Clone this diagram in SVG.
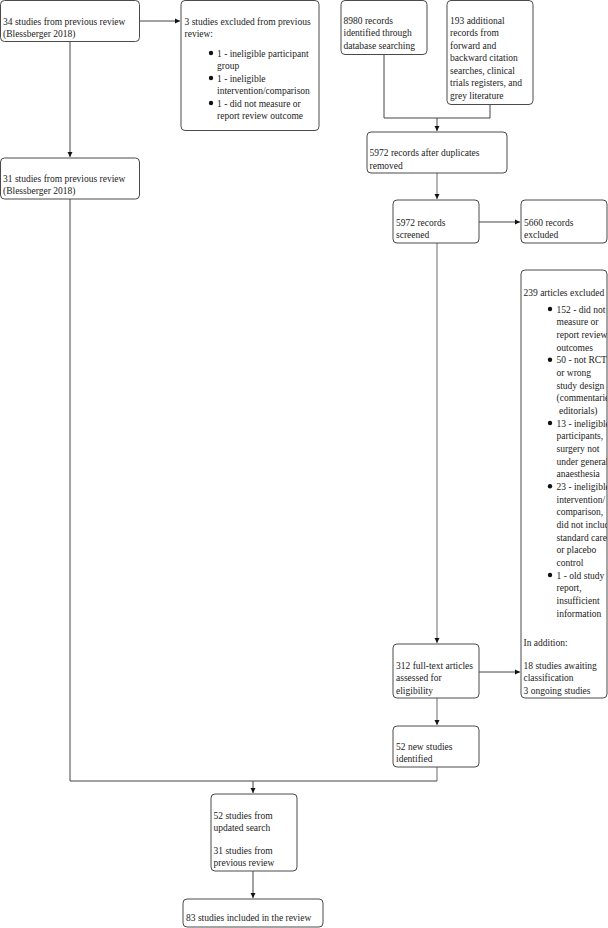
<svg xmlns="http://www.w3.org/2000/svg" width="608" height="928" viewBox="0 0 608 928" font-family="'Liberation Serif', 'Times New Roman', Times, serif">
<style>
.box{fill:#fff;stroke:#4a4a4a;stroke-width:1}
text{font-family:'Liberation Serif','Times New Roman',Times,serif;font-size:9.5px;fill:#222}
.c{fill:none;stroke:#444;stroke-width:1}
.cg{fill:none;stroke:#8c8c8c;stroke-width:1.3}
.dot{fill:#111}
</style>
<defs>
<marker id="ah" markerUnits="userSpaceOnUse" markerWidth="6" markerHeight="6" refX="5" refY="3" orient="auto">
<path d="M0,0.5 L5,3 L0,5.5 z" fill="#111"/>
</marker>
<clipPath id="clip8"><rect x="521" y="270" width="86" height="428"/></clipPath>
</defs>
<g id="connectors">
<line class="c" x1="139" y1="21" x2="180" y2="21" marker-end="url(#ah)"/>
<line class="c" x1="70" y1="41" x2="70" y2="157" marker-end="url(#ah)"/>
<polyline class="c" points="384,54 384,118 490,118 490,104"/>
<line class="c" x1="437" y1="118" x2="437" y2="131" marker-end="url(#ah)"/>
<line class="cg" x1="437" y1="173" x2="437" y2="199" marker-end="url(#ah)"/>
<line class="c" x1="479" y1="222" x2="520" y2="222" marker-end="url(#ah)"/>
<line class="cg" x1="437" y1="243" x2="437" y2="643" marker-end="url(#ah)"/>
<line class="c" x1="479" y1="672" x2="520" y2="672" marker-end="url(#ah)"/>
<line class="cg" x1="437" y1="698" x2="437" y2="725" marker-end="url(#ah)"/>
<polyline class="cg" points="437,767 437,781"/>
<polyline class="c" points="70,199 70,781 437,781"/>
<line class="c" x1="253" y1="781" x2="253" y2="793" marker-end="url(#ah)"/>
<line class="c" x1="253" y1="871" x2="253" y2="898" marker-end="url(#ah)"/>
</g>
<g id="n1">
<rect class="box" x="0.5" y="0.5" width="139" height="41" rx="4"/>
<text x="3" y="24.5">34 studies from previous review</text>
<text x="3" y="37">(Blessberger 2018)</text>
</g>
<g id="n2">
<rect class="box" x="181" y="0.5" width="138" height="130" rx="4"/>
<text x="184.5" y="24.5">3 studies excluded from previous</text>
<text x="184.5" y="37">review:</text>
<circle class="dot" cx="211" cy="53" r="2.2"/>
<text x="217" y="56.5">1 - ineligible participant</text>
<text x="217" y="69">group</text>
<circle class="dot" cx="211" cy="78" r="2.2"/>
<text x="217" y="81.5">1 - ineligible</text>
<text x="217" y="94">intervention/comparison</text>
<circle class="dot" cx="211" cy="103" r="2.2"/>
<text x="217" y="106.5">1 - did not measure or</text>
<text x="217" y="119">report review outcome</text>
</g>
<g id="n3">
<rect class="box" x="341" y="0.5" width="86" height="54" rx="4"/>
<text x="343.5" y="23.5">8980 records</text>
<text x="343.5" y="36">identified through</text>
<text x="343.5" y="48.5">database searching</text>
</g>
<g id="n4">
<rect class="box" x="447" y="0.5" width="86" height="104" rx="4"/>
<text x="450" y="23.5">193 additional</text>
<text x="450" y="36">records from</text>
<text x="450" y="48.5">forward and</text>
<text x="450" y="61">backward citation</text>
<text x="450" y="73.5">searches, clinical</text>
<text x="450" y="86">trials registers, and</text>
<text x="450" y="98.5">grey literature</text>
</g>
<g id="n5">
<rect class="box" x="367" y="132" width="140" height="41" rx="4"/>
<text x="369.5" y="155.5">5972 records after duplicates</text>
<text x="369.5" y="168.5">removed</text>
</g>
<g id="n6">
<rect class="box" x="393" y="200" width="86" height="43" rx="4"/>
<text x="396" y="225.5">5972 records</text>
<text x="396" y="238">screened</text>
</g>
<g id="n7">
<rect class="box" x="521" y="200" width="86" height="43" rx="4"/>
<text x="524" y="225.5">5660 records</text>
<text x="524" y="238">excluded</text>
</g>
<g id="n8">
<rect class="box" x="521" y="270" width="86" height="428" rx="4"/>
<g clip-path="url(#clip8)">
<text x="523.5" y="296">239 articles excluded</text>
<circle class="dot" cx="550" cy="309" r="2.2"/>
<text x="556.5" y="312.5">152 - did not</text>
<text x="556.5" y="325.2">measure or</text>
<text x="556.5" y="337.8">report review</text>
<text x="556.5" y="350.5">outcomes</text>
<circle class="dot" cx="550" cy="359.7" r="2.2"/>
<text x="556.5" y="363.2">50 - not RCT</text>
<text x="556.5" y="375.8">or wrong</text>
<text x="556.5" y="388.5">study design</text>
<text x="556.5" y="401.2">(commentaries,</text>
<text x="559" y="413.8">editorials)</text>
<circle class="dot" cx="550" cy="423" r="2.2"/>
<text x="556.5" y="426.5">13 - ineligible</text>
<text x="556.5" y="439.2">participants,</text>
<text x="556.5" y="451.8">surgery not</text>
<text x="556.5" y="464.5">under general</text>
<text x="556.5" y="477.2">anaesthesia</text>
<circle class="dot" cx="550" cy="486.3" r="2.2"/>
<text x="556.5" y="489.8">23 - ineligible</text>
<text x="556.5" y="502.5">intervention/</text>
<text x="556.5" y="515.2">comparison,</text>
<text x="556.5" y="527.8">did not include</text>
<text x="556.5" y="540.5">standard care</text>
<text x="556.5" y="553.2">or placebo</text>
<text x="556.5" y="565.8">control</text>
<circle class="dot" cx="550" cy="575" r="2.2"/>
<text x="556.5" y="578.5">1 - old study</text>
<text x="556.5" y="591.2">report,</text>
<text x="556.5" y="603.8">insufficient</text>
<text x="556.5" y="616.5">information</text>
<text x="523.5" y="645.5">In addition:</text>
<text x="523.5" y="668.5">18 studies awaiting</text>
<text x="523.5" y="681">classification</text>
<text x="523.5" y="693.5">3 ongoing studies</text>
</g>
</g>
<g id="n9">
<rect class="box" x="393" y="644" width="86" height="54" rx="4"/>
<text x="396" y="668.5">312 full-text articles</text>
<text x="396" y="681">assessed for</text>
<text x="396" y="693.5">eligibility</text>
</g>
<g id="n10">
<rect class="box" x="393" y="726" width="86" height="41" rx="4"/>
<text x="396" y="749.5">52 new studies</text>
<text x="396" y="762">identified</text>
</g>
<g id="n11">
<rect class="box" x="0.5" y="158" width="139" height="41" rx="4"/>
<text x="3" y="181.5">31 studies from previous review</text>
<text x="3" y="194">(Blessberger 2018)</text>
</g>
<g id="n12">
<rect class="box" x="211" y="794" width="86" height="77" rx="4"/>
<text x="213.5" y="818.5">52 studies from</text>
<text x="213.5" y="831">updated search</text>
<text x="213.5" y="853.5">31 studies from</text>
<text x="213.5" y="866">previous review</text>
</g>
<g id="n13">
<rect class="box" x="183" y="899" width="140" height="28" rx="4"/>
<text x="186" y="920.5">83 studies included in the review</text>
</g>
</svg>
